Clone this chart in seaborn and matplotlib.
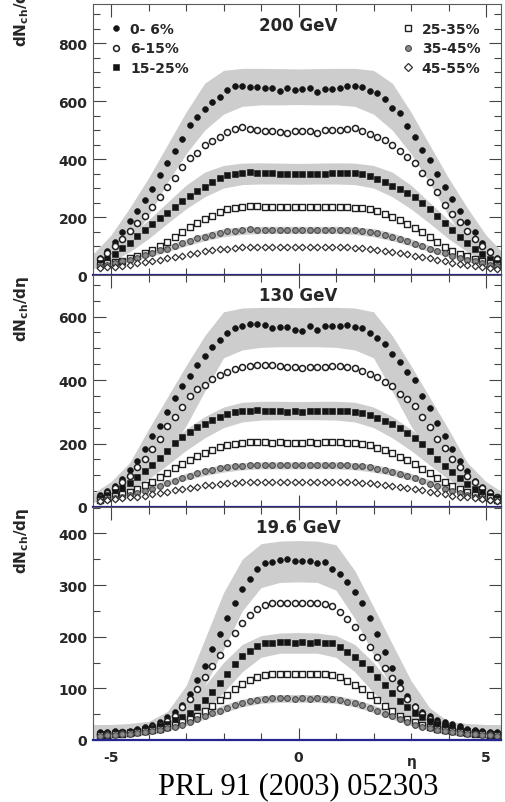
import matplotlib
matplotlib.use("Agg")
import matplotlib.pyplot as plt
from matplotlib.lines import Line2D
from matplotlib.ticker import MultipleLocator, NullFormatter
import pandas as pd
import seaborn as sns

# pseudorapidity bin centres
ETA = [-5.3, -5.1, -4.9, -4.7, -4.5, -4.3, -4.1, -3.9, -3.7, -3.5, -3.3, -3.1, -2.9, -2.7,
       -2.5, -2.3, -2.1, -1.9, -1.7, -1.5, -1.3, -1.1, -0.9, -0.7, -0.5, -0.3, -0.1,
       0.1, 0.3, 0.5, 0.7, 0.9, 1.1, 1.3, 1.5, 1.7, 1.9, 2.1, 2.3, 2.5, 2.7, 2.9,
       3.1, 3.3, 3.5, 3.7, 3.9, 4.1, 4.3, 4.5, 4.7, 4.9, 5.1, 5.3]

CENTRALITY = ["0- 6%", "6-15%", "15-25%", "25-35%", "35-45%", "45-55%"]
ENERGY = ["200 GeV", "130 GeV", "19.6 GeV"]

# dN_ch/deta, 200 GeV
D200_C0_6 = [58, 84, 115, 150, 186, 222, 259, 297, 346, 385, 429, 469, 519, 546, 573, 596, 615, 640, 651, 651, 649, 648, 646, 644, 636, 644, 640,
             642, 644, 630, 642, 643, 644, 651, 653, 647, 636, 627, 607, 576, 559, 515, 475, 431, 396, 348, 302, 261, 222, 182, 148, 112, 82, 58]
D200_C6_15 = [55, 76, 100, 125, 152, 180, 205, 236, 268, 303, 334, 371, 404, 420, 449, 463, 477, 492, 504, 509, 505, 501, 498, 497, 494, 490, 498,
              498, 498, 489, 500, 500, 501, 504, 507, 498, 486, 477, 466, 450, 427, 408, 385, 351, 320, 285, 242, 210, 182, 153, 125, 100, 78, 56]
D200_C15_25 = [40, 55, 73, 92, 112, 135, 155, 175, 195, 215, 235, 255, 272, 290, 305, 320, 333, 345, 348, 352, 354, 353, 352, 351, 349, 347, 347,
               348, 350, 349, 350, 351, 352, 352, 351, 347, 341, 330, 320, 308, 296, 283, 268, 250, 228, 203, 180, 155, 132, 110, 90, 72, 55, 40]
D200_C25_35 = [35, 40, 45, 50, 57, 65, 75, 86, 101, 115, 130, 147, 164, 179, 193, 205, 216, 226, 231, 236, 238, 237, 236, 235, 234, 235, 234,
               233, 235, 234, 236, 235, 236, 234, 232, 232, 227, 220, 210, 199, 190, 176, 163, 147, 130, 113, 98, 84, 73, 64, 55, 48, 42, 36]
D200_C35_45 = [30, 35, 40, 47, 53, 60, 68, 75, 85, 91, 99, 109, 116, 126, 131, 139, 145, 152, 153, 156, 157, 156, 155, 156, 154, 155, 156,
               155, 156, 154, 155, 156, 155, 156, 155, 152, 150, 145, 139, 132, 125, 117, 108, 99, 91, 83, 75, 67, 60, 53, 47, 40, 35, 30]
D200_C45_55 = [23, 26, 29, 32, 36, 40, 44, 48, 52, 57, 61, 66, 73, 77, 82, 85, 88, 91, 94, 95, 96, 96, 95, 96, 95, 96, 95,
               96, 95, 96, 95, 96, 95, 95, 94, 92, 90, 87, 84, 80, 76, 72, 67, 62, 57, 52, 47, 43, 39, 35, 31, 28, 25, 22]

# dN_ch/deta, 130 GeV
D130_C0_6 = [38, 50, 65, 88, 118, 146, 183, 225, 256, 298, 342, 382, 414, 447, 477, 503, 527, 547, 563, 571, 576, 576, 573, 565, 566, 567, 557,
             555, 571, 558, 571, 569, 569, 573, 566, 563, 547, 534, 513, 482, 458, 426, 400, 350, 311, 265, 223, 183, 146, 114, 83, 62, 46, 30]
D130_C6_15 = [33, 45, 60, 80, 99, 125, 151, 183, 214, 254, 283, 314, 351, 372, 384, 403, 416, 424, 434, 440, 445, 448, 447, 448, 443, 441, 441,
              437, 440, 440, 442, 445, 443, 440, 437, 430, 419, 409, 395, 380, 356, 340, 317, 283, 251, 214, 185, 151, 125, 99, 78, 60, 45, 33]
D130_C15_25 = [28, 37, 47, 60, 75, 93, 114, 132, 153, 177, 201, 222, 237, 251, 261, 275, 285, 293, 298, 302, 304, 305, 304, 303, 302, 300, 301,
               300, 302, 303, 304, 304, 303, 302, 300, 297, 290, 282, 272, 260, 248, 234, 218, 198, 175, 152, 130, 110, 90, 73, 58, 46, 36, 28]
D130_C25_35 = [23, 28, 34, 40, 48, 57, 68, 80, 93, 107, 122, 136, 148, 160, 170, 180, 188, 195, 200, 203, 204, 205, 204, 203, 204, 203, 203,
               203, 204, 203, 204, 205, 204, 203, 202, 199, 194, 187, 179, 169, 159, 147, 135, 121, 106, 92, 79, 67, 56, 47, 39, 33, 27, 22]
D130_C35_45 = [20, 24, 28, 33, 38, 44, 51, 58, 66, 75, 83, 91, 99, 106, 112, 117, 122, 126, 128, 130, 131, 132, 132, 131, 132, 131, 132,
               132, 131, 132, 131, 132, 131, 131, 130, 128, 125, 121, 116, 111, 105, 98, 90, 82, 74, 65, 57, 50, 43, 37, 32, 27, 23, 19]
D130_C45_55 = [20, 22, 25, 27, 30, 33, 36, 40, 44, 48, 52, 56, 60, 63, 68, 70, 73, 75, 77, 78, 79, 80, 80, 79, 80, 80, 79,
               80, 79, 80, 80, 79, 80, 79, 78, 77, 75, 73, 70, 67, 64, 60, 56, 52, 48, 44, 40, 36, 33, 30, 27, 25, 22, 20]

# dN_ch/deta, 19.6 GeV (no 45-55% class)
D19_C0_6 = [16, 15, 17, 16, 18, 21, 26, 30, 35, 44, 55, 68, 90, 117, 144, 176, 205, 237, 266, 292, 312, 331, 343, 345, 348, 350, 347,
            347, 347, 342, 344, 331, 321, 305, 287, 266, 237, 205, 171, 140, 112, 86, 66, 54, 47, 38, 34, 31, 27, 22, 20, 18, 16, 15]
D19_C6_15 = [12, 13, 14, 15, 16, 18, 21, 25, 30, 37, 47, 63, 79, 99, 121, 144, 164, 188, 208, 226, 242, 254, 262, 265, 266, 266, 265,
             266, 266, 265, 263, 260, 248, 234, 218, 200, 180, 160, 140, 120, 100, 80, 64, 50, 40, 32, 27, 22, 19, 17, 15, 14, 13, 12]
D19_C15_25 = [11, 12, 13, 14, 16, 18, 21, 24, 27, 31, 38, 44, 53, 64, 77, 92, 110, 128, 148, 163, 172, 181, 187, 188, 189, 189, 188,
              189, 188, 189, 188, 187, 180, 170, 160, 150, 137, 122, 106, 91, 76, 63, 52, 44, 37, 31, 27, 23, 20, 17, 15, 13, 12, 11]
D19_C25_35 = [9, 10, 11, 12, 13, 15, 17, 19, 22, 25, 29, 34, 40, 47, 56, 66, 77, 88, 98, 108, 116, 122, 126, 127, 128, 128, 127,
              127, 128, 127, 127, 125, 121, 115, 107, 98, 88, 77, 66, 56, 47, 40, 34, 29, 25, 22, 19, 17, 15, 13, 12, 11, 10, 9]
D19_C35_45 = [8, 9, 10, 11, 12, 13, 15, 17, 20, 23, 26, 30, 35, 40, 46, 52, 57, 62, 67, 71, 75, 78, 80, 81, 81, 81, 80,
              81, 80, 81, 80, 79, 77, 74, 71, 67, 62, 57, 51, 46, 40, 35, 30, 26, 23, 20, 17, 15, 13, 12, 11, 10, 9, 8]

# systematic-uncertainty envelopes (upper / lower edge)
BAND_ETA = [-5.5, -5.0, -4.5, -4.0, -3.5, -3.0, -2.5, -2.0, -1.5, -1.0, -0.5, 0.0,
            0.5, 1.0, 1.5, 2.0, 2.5, 3.0, 3.5, 4.0, 4.5, 5.0, 5.5]
B200_C0_6_HI = [70, 138, 232, 335, 448, 562, 662, 706, 713, 713, 712, 711, 712, 713, 713, 706, 662, 562, 448, 335, 232, 138, 70]
B200_C0_6_LO = [30, 55, 110, 205, 318, 418, 500, 555, 582, 587, 587, 588, 587, 587, 582, 555, 500, 418, 318, 205, 110, 55, 30]
B200_C15_25_HI = [50, 88, 135, 190, 250, 310, 355, 378, 386, 387, 386, 385, 386, 387, 386, 378, 355, 310, 250, 190, 135, 88, 50]
B200_C15_25_LO = [25, 45, 80, 125, 178, 228, 270, 300, 312, 314, 314, 313, 314, 314, 312, 300, 270, 228, 178, 125, 80, 45, 25]
B200_C35_45_HI = [30, 44, 60, 80, 102, 125, 145, 160, 166, 168, 168, 168, 168, 168, 166, 160, 145, 125, 102, 80, 60, 44, 30]
B200_C35_45_LO = [22, 33, 46, 62, 80, 100, 118, 132, 140, 143, 143, 143, 143, 143, 140, 132, 118, 100, 80, 62, 46, 33, 22]

B130_C0_6_HI = [42, 80, 140, 245, 345, 445, 540, 615, 627, 629, 629, 628, 629, 629, 627, 615, 540, 445, 345, 245, 140, 80, 42]
B130_C0_6_LO = [15, 28, 50, 90, 165, 255, 365, 470, 495, 503, 505, 505, 505, 503, 495, 470, 365, 255, 165, 90, 50, 28, 15]
B130_C15_25_HI = [32, 58, 95, 142, 195, 245, 285, 315, 330, 333, 333, 332, 333, 333, 330, 315, 285, 245, 195, 142, 95, 58, 32]
B130_C15_25_LO = [15, 28, 52, 88, 132, 178, 218, 250, 268, 274, 275, 275, 275, 274, 268, 250, 218, 178, 132, 88, 52, 28, 15]
B130_C35_45_HI = [22, 33, 48, 66, 86, 106, 122, 134, 140, 142, 142, 142, 142, 142, 140, 134, 122, 106, 86, 66, 48, 33, 22]
B130_C35_45_LO = [16, 25, 37, 51, 68, 85, 99, 110, 117, 120, 120, 120, 120, 120, 117, 110, 99, 85, 68, 51, 37, 25, 16]

B19_C0_6_HI = [30, 30, 32, 36, 55, 105, 195, 285, 350, 380, 385, 386, 385, 378, 328, 258, 186, 115, 62, 36, 32, 30, 30]
B19_C0_6_LO = [4, 4, 6, 12, 25, 52, 105, 175, 250, 295, 305, 306, 305, 290, 235, 165, 100, 52, 25, 12, 6, 4, 4]
B19_C15_25_HI = [26, 26, 27, 30, 40, 65, 105, 150, 185, 202, 207, 208, 207, 202, 185, 150, 105, 65, 40, 30, 27, 26, 26]
B19_C15_25_LO = [5, 5, 6, 10, 17, 30, 55, 92, 132, 160, 168, 168, 168, 160, 132, 92, 55, 30, 17, 10, 6, 5, 5]
B19_C35_45_HI = [13, 14, 16, 20, 28, 38, 53, 68, 79, 86, 88, 88, 88, 86, 79, 68, 53, 38, 28, 20, 16, 14, 13]
B19_C35_45_LO = [6, 7, 9, 13, 19, 28, 40, 53, 64, 71, 73, 73, 73, 71, 64, 53, 40, 28, 19, 13, 9, 7, 6]

SERIES = {
    "200 GeV": [D200_C0_6, D200_C6_15, D200_C15_25, D200_C25_35, D200_C35_45, D200_C45_55],
    "130 GeV": [D130_C0_6, D130_C6_15, D130_C15_25, D130_C25_35, D130_C35_45, D130_C45_55],
    "19.6 GeV": [D19_C0_6, D19_C6_15, D19_C15_25, D19_C25_35, D19_C35_45],
}
BANDS = {
    "200 GeV": [(B200_C0_6_LO, B200_C0_6_HI), (B200_C15_25_LO, B200_C15_25_HI), (B200_C35_45_LO, B200_C35_45_HI)],
    "130 GeV": [(B130_C0_6_LO, B130_C0_6_HI), (B130_C15_25_LO, B130_C15_25_HI), (B130_C35_45_LO, B130_C35_45_HI)],
    "19.6 GeV": [(B19_C0_6_LO, B19_C0_6_HI), (B19_C15_25_LO, B19_C15_25_HI), (B19_C35_45_LO, B19_C35_45_HI)],
}

rows = []
for energy, curves in SERIES.items():
    for cent, values in zip(CENTRALITY, curves):
        for eta, v in zip(ETA, values):
            rows.append({"energy": energy, "centrality": cent, "eta": eta, "dndeta": v})
df = pd.DataFrame(rows)

band_rows = []
for energy, pairs in BANDS.items():
    for k, (lo, hi) in enumerate(pairs):
        for eta, a, b in zip(BAND_ETA, lo, hi):
            band_rows.append({"energy": energy, "band": k, "eta": eta, "lo": a, "hi": b})
bands = pd.DataFrame(band_rows)

INK = "#141414"
MARKERS = {
    "0- 6%": dict(marker="o", s=18, color=INK, edgecolor=INK, linewidth=0.4),
    "6-15%": dict(marker="o", s=19, color="white", edgecolor="#202020", linewidth=1.1),
    "15-25%": dict(marker="s", s=16, color=INK, edgecolor=INK, linewidth=0.4),
    "25-35%": dict(marker="s", s=16, color="white", edgecolor="#202020", linewidth=1.0),
    "35-45%": dict(marker="o", s=17, color="#8a8a8a", edgecolor="#4a4a4a", linewidth=0.8),
    "45-55%": dict(marker="D", s=11, color="white", edgecolor="#303030", linewidth=0.9),
}

sns.set_theme(style="ticks")
plt.rcParams["font.family"] = ["DejaVu Sans"]
plt.rcParams["axes.unicode_minus"] = False
plt.rcParams["mathtext.fontset"] = "dejavusans"

fig = plt.figure(figsize=(5.06, 8.03), dpi=100)
x0, w = 93 / 506, 408 / 506
panels = [
    dict(energy="200 GeV", rect=(x0, 1 - 276 / 803, w, 271 / 803), ymax=935, major=200, title_y=0.924, lab_y=1.09),
    dict(energy="130 GeV", rect=(x0, 1 - 508 / 803, w, 232 / 803), ymax=731, major=200, title_y=0.914, lab_y=1.0),
    dict(energy="19.6 GeV", rect=(x0, 1 - 741 / 803, w, 233 / 803), ymax=451, major=100, title_y=0.914, lab_y=1.0),
]

axes = []
for i, p in enumerate(panels):
    ax = fig.add_axes(p["rect"])
    axes.append(ax)
    sub_b = bands[bands["energy"] == p["energy"]]
    for k, grp in sub_b.groupby("band"):
        ax.fill_between(grp["eta"], grp["lo"], grp["hi"], color="#cdcdcd", linewidth=0, zorder=1)
    sub = df[df["energy"] == p["energy"]]
    for cent in CENTRALITY:
        part = sub[sub["centrality"] == cent]
        if part.empty:
            continue
        sns.scatterplot(data=part, x="eta", y="dndeta", ax=ax, legend=False, zorder=3, **MARKERS[cent])

    ax.set_xlim(-5.48, 5.40)
    ax.set_ylim(0, p["ymax"])
    ax.xaxis.set_major_locator(MultipleLocator(5))
    ax.xaxis.set_minor_locator(MultipleLocator(1))
    ax.yaxis.set_major_locator(MultipleLocator(p["major"]))
    ax.yaxis.set_minor_locator(MultipleLocator(50))
    ax.tick_params(which="both", direction="in", top=True, right=True, color="#444444", width=0.8)
    ax.tick_params(which="major", length=9)
    ax.tick_params(which="minor", length=5)
    ax.tick_params(axis="y", which="major", pad=4, labelsize=10)
    ax.tick_params(axis="x", which="major", pad=7, labelsize=10)
    for lab in ax.get_yticklabels():
        lab.set_fontweight("bold")
    if i < 2:
        ax.xaxis.set_major_formatter(NullFormatter())
        ax.tick_params(axis="x", labelbottom=False)
        ax.set_xlabel("")
    else:
        for lab in ax.get_xticklabels():
            lab.set_fontweight("bold")
        ax.set_xlabel("η", fontsize=10, fontweight="bold")
        ax.xaxis.set_label_coords(0.782, -0.058)
        ax.xaxis.label.set_verticalalignment("top")

    for side in ("left", "right", "top"):
        ax.spines[side].set_color("#5a5a5a")
        ax.spines[side].set_linewidth(0.8)
    ax.spines["bottom"].set_color("#25258f")
    ax.spines["bottom"].set_linewidth(1.6)
    ax.spines["bottom"].set_zorder(5)

    ax.set_ylabel(r"$\mathbf{dN_{ch}/d\eta}$", fontsize=11, loc="top")
    ax.yaxis.set_label_coords(-0.151, p["lab_y"])
    ax.text(0.0, p["title_y"], p["energy"], transform=ax.get_xaxis_transform(),
            ha="center", va="center", fontsize=12, fontweight="bold")


# centrality legend on the top panel, split in two columns of three
def proxy(cent):
    st = MARKERS[cent]
    return Line2D([], [], linestyle="none", marker=st["marker"],
                  markersize=4.2 if st["marker"] != "D" else 3.6,
                  markerfacecolor=st["color"], markeredgecolor=st["edgecolor"],
                  markeredgewidth=st["linewidth"])


legend_kw = dict(frameon=False, handlelength=1.0, handletextpad=0.5, labelspacing=0.42,
                 borderpad=0.0, borderaxespad=0.0, prop=dict(weight="bold", size=10))
ax0 = axes[0]
leg1 = ax0.legend(handles=[proxy(c) for c in CENTRALITY[:3]], labels=CENTRALITY[:3], loc="upper left",
                  bbox_to_anchor=(0.04, 0.935), **legend_kw)
ax0.add_artist(leg1)
ax0.legend(handles=[proxy(c) for c in CENTRALITY[3:]], labels=CENTRALITY[3:], loc="upper left",
           bbox_to_anchor=(0.755, 0.935), **legend_kw)

fig.text(298.5 / 506, 1 - 787 / 803, "PRL 91 (2003) 052303", ha="center", va="center",
         family="Liberation Serif", fontsize=22, color="black")

fig.savefig("out.png", dpi=100)
